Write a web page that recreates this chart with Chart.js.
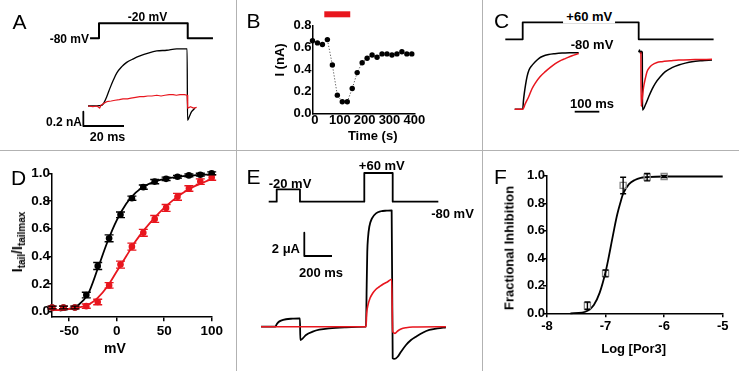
<!DOCTYPE html>
<html><head><meta charset="utf-8">
<script src="https://cdn.jsdelivr.net/npm/chart.js@4/dist/chart.umd.min.js"></script>
<style>
html,body{margin:0;padding:0;background:#fff;}
#fig{position:relative;width:739px;height:371px;overflow:hidden;background:#fff;font-family:'Liberation Sans',Arial,Helvetica,sans-serif;}
#fig canvas{position:absolute;}
.t{position:absolute;white-space:nowrap;line-height:1;font-weight:bold;color:#000;}
.sep{position:absolute;background:#b2b2b2;}
sub{font-size:10px;vertical-align:-3px;line-height:0;}
</style></head><body><div id="fig"></div>
<script>
// ---------------- DATA ----------------
// Panel A: -20 mV step, current traces (ms, nA)
const A_protoT  = [-4.4, 0, 0, 43.6, 43.6, 56];
const A_protoMV = [-80, -80, -20, -20, -80, -80];
const A_ctrl = [[-5.4,0],[1.3,0.01],[2.1,0.03],[3.8,0.13],[5.4,0.25],[7.0,0.36],[8.7,0.46],[11.2,0.55],[13.6,0.61],[16.9,0.66],[20.1,0.70],[24.2,0.74],[28.4,0.77],[33.3,0.78],[38.2,0.80],[43.3,0.80],[43.5,-0.20],[44.5,-0.14],[45.5,-0.08],[47.2,-0.03]];
const A_por = [[-5.4,0],[-3,-0.01],[-1,0],[0.3,-0.03],[1,0.01],[2,0.03],[3.8,0.06],[6,0.07],[7.9,0.08],[10,0.09],[11.8,0.10],[14,0.10],[15.7,0.11],[18,0.12],[20.1,0.13],[22,0.13],[24,0.14],[26,0.14],[28.4,0.15],[30.5,0.14],[32.4,0.15],[34.5,0.16],[36.4,0.16],[38,0.15],[39.8,0.16],[42,0.16],[43.3,0.15],[43.6,-0.03],[45,-0.01],[46.5,-0.03],[48,-0.02]];
const A_bar = {t0:-7.7, i0:-0.28, ms:20, nA:0.2};

// Panel B: time course (s, nA)
const B_time = [-10,10,30,50,70,90,110,130,150,170,190,210,230,250,270,290,310,330,350,370,390];
const B_current = [0.66,0.64,0.625,0.67,0.44,0.165,0.105,0.105,0.225,0.37,0.46,0.50,0.53,0.51,0.54,0.54,0.53,0.54,0.56,0.54,0.54];
const B_drugTime = [37.5, 142];
const B_drugLevel = 0.9;
const B_xTicks = [0,100,200,300,400];
const B_yTicks = [0,0.2,0.4,0.6,0.8];

// Panel C: +60 mV activation and -80 mV tails (ms, normalised)
const C_protoT  = [-70.7, 0, 0, 471.5, 471.5, 776];
const C_protoMV = [-80, -80, 60, 60, -80, -80];
const C_actCtrl = [[-32.5,0],[0,0],[3.3,0.163],[6.5,0.28],[11.4,0.426],[17.5,0.57],[25.6,0.69],[37.8,0.77],[50,0.83],[65,0.89],[81.7,0.93],[105.7,0.96],[131,0.975],[160,0.986],[192,0.991],[227.6,0.993]];
const C_actPor = [[-32.5,0],[0,0],[10.6,0.10],[24.4,0.22],[37.8,0.36],[51.2,0.46],[70.3,0.57],[91.9,0.66],[111,0.73],[132.5,0.80],[151.6,0.85],[173.2,0.89],[200.4,0.94],[227.6,0.98]];
const C_tailCtrl = [[471.5,1.0],[475,1.04],[479,0.98],[483,1.02],[486,1.0],[487,-0.012],[498.4,0.075],[512.2,0.22],[525.6,0.35],[539,0.456],[559.3,0.57],[579.7,0.66],[606.9,0.73],[634.1,0.777],[661,0.81],[688.2,0.835],[728.9,0.853],[769.5,0.865]];
const C_tailPor = [[480.5,1.0],[481.5,0.05],[485,0.16],[491.9,0.40],[498.4,0.54],[505.3,0.66],[514.6,0.73],[525.6,0.777],[546,0.82],[566.3,0.835],[600,0.85],[634.1,0.865],[700,0.872],[769.5,0.877]];
const C_bar = {t0:211.4, i0:-0.042, ms:100};

// Panel D: activation curves (mV, normalised tail current)
const D_mV = [-68,-56,-44,-32,-20,-8,4,16,28,40,52,64,76,88,100];
const D_ctrl = [0.03,0.03,0.03,0.12,0.33,0.53,0.70,0.82,0.90,0.94,0.96,0.975,0.985,0.99,1.0];
const D_ctrlErr = [0.01,0.01,0.01,0.02,0.025,0.025,0.02,0.015,0.015,0.015,0.012,0.01,0.01,0.01,0.01];
const D_drug = [0.03,0.03,0.03,0.04,0.07,0.19,0.34,0.47,0.57,0.67,0.75,0.83,0.89,0.94,0.97];
const D_drugErr = [0.01,0.01,0.01,0.015,0.02,0.02,0.025,0.025,0.025,0.025,0.025,0.025,0.02,0.02,0.02];
const D_ctrlFitV = [-60,-50,-40,-30,-20,-10,0,10,20,30,40,50,60,70,80,90,100];
const D_ctrlFit  = [0.008,0.02,0.05,0.13,0.31,0.50,0.66,0.78,0.86,0.91,0.94,0.96,0.97,0.98,0.985,0.99,0.99];
const D_drugFitV = [-68,-60,-50,-40,-30,-20,-10,0,10,20,30,40,50,60,70,80,90,100];
const D_drugFit  = [0.01,0.012,0.02,0.03,0.05,0.10,0.18,0.29,0.40,0.51,0.60,0.68,0.75,0.81,0.86,0.90,0.93,0.96];
const D_xTicks = [-50,0,50,100];
const D_yTicks = [0,0.2,0.4,0.6,0.8,1.0];

// Panel E: double-pulse protocol (ms, uA)
const E_protoT  = [-57.8, 0, 0, 168, 168, 632.5, 632.5, 837.5, 837.5, 1167];
const E_protoMV = [-80, -80, -20, -20, -80, -80, 60, 60, -80, -80];
const E_ctrl = [[-113,0],[-10,0],[0,0.21],[11.6,0.38],[31,0.52],[67,0.64],[115.5,0.69],[163,0.72],[168,0.72],[170.4,-1.14],[188,-1.0],[211.6,-0.71],[260,-0.43],[307.6,-0.26],[380,-0.14],[500,-0.05],[640,0],[644.8,0],[649.8,3.58],[654,6.44],[659,7.59],[668.6,8.58],[688,9.30],[717,9.73],[753,9.91],[795,9.96],[830,9.99],[837.5,-2.71],[849,-2.77],[873.6,-2.58],[897.5,-2.15],[933.6,-1.57],[969.7,-1.14],[1005.8,-0.86],[1054,-0.52],[1102,-0.28],[1162.5,-0.14],[1222,-0.05]];
const E_por = [[-113,0],[640,0],[644.8,0],[649.8,1.15],[659,1.86],[673.6,2.44],[693,2.87],[717,3.21],[741,3.43],[770,3.67],[801.4,3.86],[830,4.07],[837.5,-0.43],[854,-0.57],[873.6,-0.37],[897.5,-0.2],[933.6,-0.09],[982,-0.03],[1222,0]];
const E_bar = {t0:199.3, i0:6.07, ms:200, uA:2};

// Panel F: concentration-response (log M, fractional inhibition)
const F_logC = [-7.31,-7.0,-6.70,-6.29,-6.0];
const F_inh  = [0.055,0.29,0.93,0.99,0.995];
const F_err  = [0.027,0.025,0.06,0.027,0.008];
const F_fitLog = [-7.6,-7.4,-7.3,-7.2,-7.1,-7.0,-6.95,-6.9,-6.85,-6.8,-6.75,-6.7,-6.6,-6.5,-6.4,-6.3,-6.0,-5.0];
const F_fitInh = [0.0,0.005,0.02,0.06,0.15,0.30,0.40,0.51,0.62,0.72,0.80,0.87,0.94,0.97,0.985,0.99,0.995,0.995];
const F_xTicks = [-8,-7,-6,-5];
const F_yTicks = [0,0.2,0.4,0.6,0.8,1.0];

// ---------------- HELPERS ----------------
const FONT = "'Liberation Sans', Arial, Helvetica, sans-serif";
const RED = '#e8161e';
const fig = document.getElementById('fig');
const xy = (xs, ys) => xs.map((x,i)=>({x, y:ys[i]}));
const pr = (arr) => arr.map(p=>({x:p[0], y:p[1]}));

const errorBars = {
  id:'errorBars',
  afterDatasetsDraw(chart, args, opts) {
    const ctx = chart.ctx, xs = chart.scales.x, ys = chart.scales.y;
    chart.data.datasets.forEach(ds => {
      if (!ds.errors) return;
      ctx.save(); ctx.strokeStyle = ds.errColor; ctx.lineWidth = 1.4;
      ds.data.forEach((p, j) => {
        const e = ds.errors[j], px = xs.getPixelForValue(p.x);
        const y1 = ys.getPixelForValue(p.y + e), y2 = ys.getPixelForValue(p.y - e), c = ds.cap;
        ctx.beginPath();
        ctx.moveTo(px, y1); ctx.lineTo(px, y2);
        ctx.moveTo(px-c, y1); ctx.lineTo(px+c, y1);
        ctx.moveTo(px-c, y2); ctx.lineTo(px+c, y2);
        ctx.stroke();
      });
      ctx.restore();
    });
  }
};

function mk(left, top, w, h, datasets, opts, plugins) {
  const c = document.createElement('canvas');
  c.width = w; c.height = h;
  c.style.left = left+'px'; c.style.top = top+'px'; c.style.width = w+'px'; c.style.height = h+'px';
  fig.appendChild(c);
  const options = Object.assign({
    responsive:false, animation:false, devicePixelRatio:1, events:[],
    layout:{autoPadding:false, padding:0},
    plugins:{legend:{display:false}, tooltip:{enabled:false}}
  }, opts);
  return new Chart(c, {type:'scatter', data:{datasets}, options, plugins:plugins||[]});
}
function tr(data, color, width, axis, smooth, order) {
  return {data, showLine:true, borderColor:color, backgroundColor:color, borderWidth:width,
    pointRadius:0, pointHoverRadius:0, fill:false, tension:0,
    cubicInterpolationMode: smooth ? 'monotone' : 'default', yAxisID:axis, clip:false, order:order||0,
    borderJoinStyle:'round'};
}
// hidden scales mapping a value to a canvas pixel with a given px/unit
function hx(p0, v0, ppu, size) { const min = v0 - p0/ppu; return {type:'linear', display:false, min, max:min + size/ppu}; }
function hy(p0, v0, ppu, size) { const max = v0 + p0/ppu; return {type:'linear', axis:'y', display:false, min:max - size/ppu, max}; }
function ax(pos, min, max, ticks, fmt, size, tl, pad, fs) {
  return {type:'linear', position:pos, min, max,
    afterBuildTicks: s => { s.ticks = ticks.map(v=>({value:v})); },
    afterFit: s => { if (pos === 'bottom') s.height = size; else s.width = size; },
    grid:{display:true, drawOnChartArea:false, drawTicks:tl>0, tickLength:tl, color:'#000', lineWidth:1.5},
    border:{display:true, color:'#000', width:1.5},
    ticks:{color:'#000', padding:pad, autoSkip:false, maxRotation:0, minRotation:0,
      font:{family:FONT, size:fs, weight:'bold', lineHeight:1}, callback: v => fmt(v)},
    title:{display:false}};
}
function bar3(b, h, v, axis) { // L-shaped scale bar
  const pts = [];
  if (v !== null) pts.push({x:b.t0, y:b.i0 + v});
  pts.push({x:b.t0, y:b.i0});
  pts.push({x:b.t0 + h, y:b.i0});
  return tr(pts, '#000', 1.8, axis, false, 0);
}
function txt(html, x, y, size, align, o) {
  o = o || {};
  const d = document.createElement('div');
  d.className = 't'; d.innerHTML = html;
  d.style.left = x+'px'; d.style.top = y+'px'; d.style.fontSize = size+'px';
  const tx = align === 'r' ? '-100%' : (align === 'l' ? '0' : '-50%');
  d.style.transform = `translate(${tx},-50%)` + (o.rot ? ' rotate(-90deg)' : '');
  if (o.normal) d.style.fontWeight = 'normal';
  if (o.bg) { d.style.background = '#fff'; d.style.padding = '1px 3px'; }
  fig.appendChild(d);
}
const f1 = v => Number(v).toFixed(1);
const f0 = v => String(v);

// ---------------- PANEL A ----------------
mk(0, 0, 236, 151, [
  tr(pr(A_por), RED, 1.2, 'y', false, 1),
  tr(pr(A_ctrl), '#000', 1.3, 'y', true, 2),
  tr(xy(A_protoT, A_protoMV), '#000', 2, 'v', false, 3),
  bar3(A_bar, A_bar.ms, A_bar.nA, 'y')
], {scales:{x:hx(99, 0, 2.035, 236), y:hy(106, 0, 71.5, 151), v:hy(38.3, -80, 0.25, 151)}});

// ---------------- PANEL B ----------------
mk(237, 0, 246, 151, [
  {data:xy(B_time, B_current), showLine:true, borderColor:'#555', borderWidth:1, borderDash:[1.2,1.8],
   pointRadius:2.7, pointBackgroundColor:'#000', pointBorderColor:'#000', pointBorderWidth:0, tension:0, clip:false},
  {data:[{x:B_drugTime[0], y:B_drugLevel},{x:B_drugTime[1], y:B_drugLevel}], showLine:true, borderColor:RED,
   borderWidth:6, borderCapStyle:'butt', pointRadius:0, clip:false}
], {layout:{autoPadding:false, padding:{left:35.5, right:68.7, top:25.3, bottom:0}},
    scales:{x:ax('bottom', -10, 400, B_xTicks, f0, 37.7, 0, 0.8, 13),
            y:ax('left', 0, 0.8, B_yTicks, f1, 40, 0, 1, 13)}});

// ---------------- PANEL C ----------------
mk(484, 0, 255, 151, [
  tr(pr(C_actPor), RED, 1.5, 'y', true, 1),
  tr(pr(C_tailPor), RED, 1.5, 'y', true, 1),
  tr(pr(C_actCtrl), '#000', 1.5, 'y', true, 2),
  tr(pr(C_tailCtrl), '#000', 1.5, 'y', true, 2),
  tr(xy(C_protoT, C_protoMV), '#000', 1.8, 'v', false, 3),
  bar3(C_bar, C_bar.ms, null, 'y')
], {scales:{x:hx(38.7, 0, 0.246, 255), y:hy(109.3, 0, 57, 151), v:hy(39.3, -80, 0.1214, 151)}});

// ---------------- PANEL D ----------------
mk(0, 152, 236, 219, [
  {data:xy(D_mV, D_drug), showLine:false, pointRadius:3.3, pointBackgroundColor:RED, pointBorderWidth:0,
   errors:D_drugErr, errColor:RED, cap:4.5, clip:false, order:1},
  {data:xy(D_mV, D_ctrl), showLine:false, pointRadius:3.3, pointBackgroundColor:'#000', pointBorderWidth:0,
   errors:D_ctrlErr, errColor:'#000', cap:4.5, clip:false, order:2},
  {data:xy(D_drugFitV, D_drugFit), showLine:true, borderColor:RED, borderWidth:1.8, pointRadius:0,
   cubicInterpolationMode:'monotone', clip:false, order:3},
  {data:xy(D_ctrlFitV, D_ctrlFit), showLine:true, borderColor:'#000', borderWidth:1.8, pointRadius:0,
   cubicInterpolationMode:'monotone', clip:false, order:4}
], {layout:{autoPadding:false, padding:{left:10, right:24.3, top:21.3, bottom:8}},
    scales:{x:ax('bottom', -68, 100, D_xTicks, f0, 45.8, 4, 3.5, 13.5),
            y:ax('left', -0.04, 1.0, D_yTicks, f1, 42.1, 4, -2, 13.5)}}, [errorBars]);

// ---------------- PANEL E ----------------
mk(237, 152, 246, 219, [
  tr(pr(E_por), RED, 1.6, 'y', true, 1),
  tr(pr(E_ctrl), '#000', 1.8, 'y', true, 2),
  tr(xy(E_protoT, E_protoMV), '#000', 1.8, 'v', false, 3),
  bar3(E_bar, E_bar.ms, E_bar.uA, 'y')
], {scales:{x:hx(39.7, 0, 0.1385, 246), y:hy(174.7, 0, 11.65, 219), v:hy(49.7, -80, 0.205, 219)}});

// ---------------- PANEL F ----------------
mk(484, 152, 255, 219, [
  {data:xy(F_logC, F_inh), showLine:false, pointStyle:'rect', pointRadius:4.3, pointBackgroundColor:'rgba(255,255,255,0)',
   pointBorderColor:'#8a8a8a', pointBorderWidth:1.3, errors:F_err, errColor:'#000', cap:3, clip:false, order:1},
  {data:xy(F_fitLog, F_fitInh), showLine:true, borderColor:'#000', borderWidth:1.8, pointRadius:0,
   cubicInterpolationMode:'monotone', clip:false, order:2}
], {layout:{autoPadding:false, padding:{left:14, right:16.3, top:23.8, bottom:10}},
    scales:{x:ax('bottom', -8, -5, F_xTicks, f0, 47.7, 4, 2.9, 13),
            y:ax('left', 0, 1.0, F_yTicks, f1, 49, 4, -2, 13)}}, [errorBars]);

// ---------------- TEXT ----------------
// panel letters
txt('A', 19.5, 20.5, 21, 'c', {normal:true});
txt('B', 253.5, 20, 21, 'c', {normal:true});
txt('C', 501.5, 20, 21, 'c', {normal:true});
txt('D', 18.5, 177, 21, 'c', {normal:true});
txt('E', 253.5, 176, 21, 'c', {normal:true});
txt('F', 500.5, 176, 21, 'c', {normal:true});
// A
txt('-80 mV', 89, 39.3, 12, 'r');
txt('-20 mV', 147.5, 16.7, 12, 'c');
txt('0.2 nA', 82, 121.7, 12, 'r');
txt('20 ms', 107.5, 136.7, 12.5, 'c');
// B
txt('I (nA)', 279.3, 60, 13, 'c', {rot:true});
txt('Time (s)', 372.7, 135, 13, 'c');
// C
txt('+60 mV', 589.3, 15.7, 13, 'c', {bg:true});
txt('-80 mV', 592, 44, 13, 'c');
txt('100 ms', 592, 103.3, 13, 'c');
// D
txt('I<sub>tail</sub>/I<sub>tailmax</sub>', 16.7, 241.7, 14, 'c', {rot:true});
txt('mV', 115, 348.3, 14, 'c');
// E
txt('-20 mV', 290, 183, 13, 'c');
txt('+60 mV', 381.8, 165, 13, 'c');
txt('-80 mV', 452.5, 213, 13, 'c');
txt('2 \u03bcA', 300, 248.3, 13, 'r');
txt('200 ms', 321, 272.3, 13, 'c');
// F
txt('Fractional Inhibition', 508.7, 248.3, 13, 'c', {rot:true});
txt('Log [Por3]', 633.7, 347.7, 13, 'c');

// separators
[[236,0,1,371],[482,0,1,371],[0,150,739,1]].forEach(s => {
  const d = document.createElement('div'); d.className = 'sep';
  d.style.left = s[0]+'px'; d.style.top = s[1]+'px'; d.style.width = s[2]+'px'; d.style.height = s[3]+'px';
  fig.appendChild(d);
});
</script></body></html>
